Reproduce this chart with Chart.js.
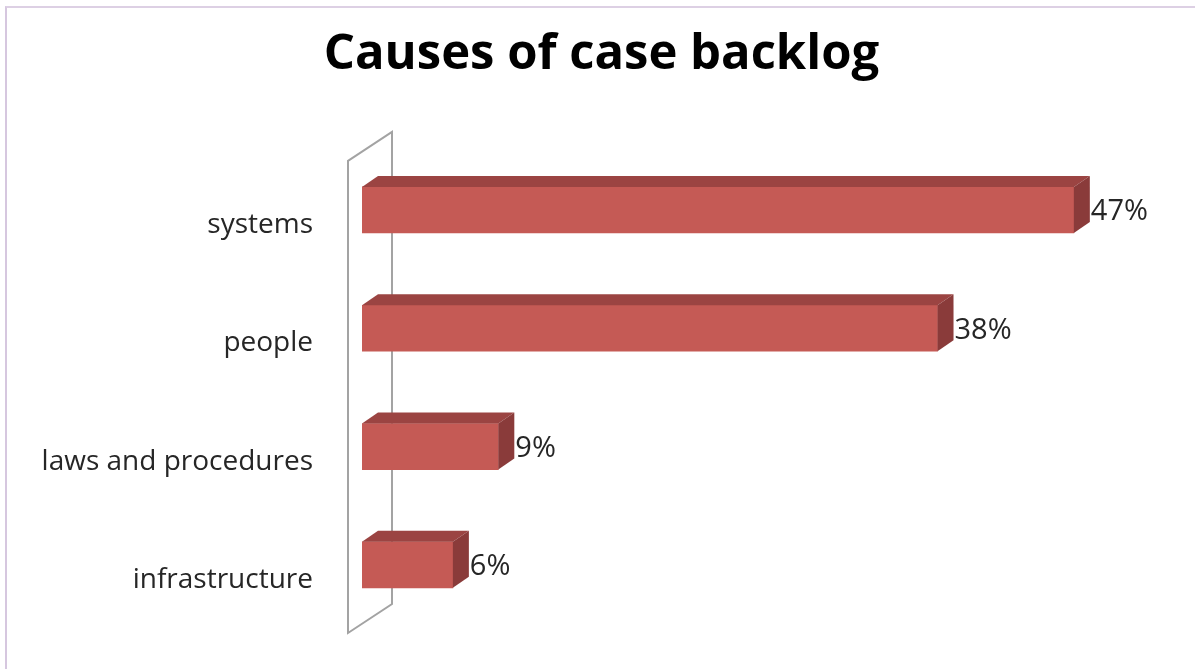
<!DOCTYPE html>
<html>
<head>
<meta charset="utf-8">
<script src="https://cdn.jsdelivr.net/npm/chart.js@4"></script>
<style>
  html, body { margin: 0; padding: 0; background: #fff; }
  #wrap { position: relative; width: 1195px; height: 669px; overflow: hidden; }
  #frame { position: absolute; left: 5px; top: 6px; right: -10px; bottom: -10px;
           border-left: 2px solid #d6c7df; border-top: 2px solid #ddd0e4; }
  canvas { position: absolute; left: 0; top: 0; }
</style>
</head>
<body>
<div id="wrap">
  <div id="frame"></div>
  <canvas id="c" width="1195" height="669"></canvas>
</div>
<script>
const categories = ['systems', 'people', 'laws and procedures', 'infrastructure'];
const values = [47, 38, 9, 6];
const valueLabels = ['47%', '38%', '9%', '6%'];
const titleText = 'Causes of case backlog';

const FRONT = '#c55a55';
const TOP = '#9b4442';
const SIDE = '#8a3b3a';
const DX = 16, DY = -11;

const threeD = {
  id: 'threeD',
  beforeDatasetsDraw(chart) {
    const { ctx, chartArea: a } = chart;
    ctx.save();
    ctx.strokeStyle = '#a3a3a3';
    ctx.lineWidth = 2;
    ctx.beginPath();
    ctx.moveTo(a.left - 14, a.top + 10);
    ctx.lineTo(a.left + 30, a.top - 19);
    ctx.lineTo(a.left + 30, a.bottom - 20);
    ctx.lineTo(a.left - 14, a.bottom + 9);
    ctx.closePath();
    ctx.stroke();
    ctx.restore();
  },
  afterDatasetsDraw(chart) {
    const { ctx } = chart;
    const meta = chart.getDatasetMeta(0);
    ctx.save();
    meta.data.forEach((bar, i) => {
      const x0 = bar.base, x1 = bar.x;
      const yT = bar.y - bar.height / 2, yB = bar.y + bar.height / 2;
      ctx.fillStyle = TOP;
      ctx.beginPath();
      ctx.moveTo(x0, yT);
      ctx.lineTo(x0 + DX, yT + DY);
      ctx.lineTo(x1 + DX, yT + DY);
      ctx.lineTo(x1, yT);
      ctx.closePath();
      ctx.fill();
      ctx.fillStyle = SIDE;
      ctx.beginPath();
      ctx.moveTo(x1, yT);
      ctx.lineTo(x1 + DX, yT + DY);
      ctx.lineTo(x1 + DX, yB + DY);
      ctx.lineTo(x1, yB);
      ctx.closePath();
      ctx.fill();
      ctx.fillStyle = '#262626';
      ctx.font = '29px "Open Sans"';
      ctx.textAlign = 'left';
      ctx.textBaseline = 'middle';
      ctx.fillText(valueLabels[i], x1 + DX + 1, bar.y + 2);
    });
    ctx.restore();
  }
};

new Chart(document.getElementById('c'), {
  type: 'bar',
  data: {
    labels: categories,
    datasets: [{
      data: values,
      backgroundColor: FRONT,
      borderWidth: 0,
      barThickness: 46
    }]
  },
  options: {
    indexAxis: 'y',
    responsive: false,
    animation: false,
    devicePixelRatio: 1,
    layout: { padding: { left: 8, right: 0, top: 0, bottom: 45 } },
    plugins: {
      legend: { display: false },
      tooltip: { enabled: false },
      title: {
        display: true,
        text: titleText,
        color: '#000',
        font: { family: '"Open Sans"', size: 49, weight: 'bold', lineHeight: 1.2 },
        padding: { top: 26, bottom: 66 }
      }
    },
    scales: {
      x: { type: 'linear', min: 0, max: 55, display: false },
      y: {
        display: true,
        grid: { display: false, drawTicks: false },
        border: { display: false },
        ticks: {
          color: '#262626',
          font: { family: '"Open Sans"', size: 28 },
          padding: 49,
          labelOffset: 15
        },
        afterFit(scale) {
          scale.width = 354;
          scale.paddingTop = 0;
          scale.paddingBottom = 0;
        }
      }
    }
  },
  plugins: [threeD]
});
</script>
</body>
</html>
